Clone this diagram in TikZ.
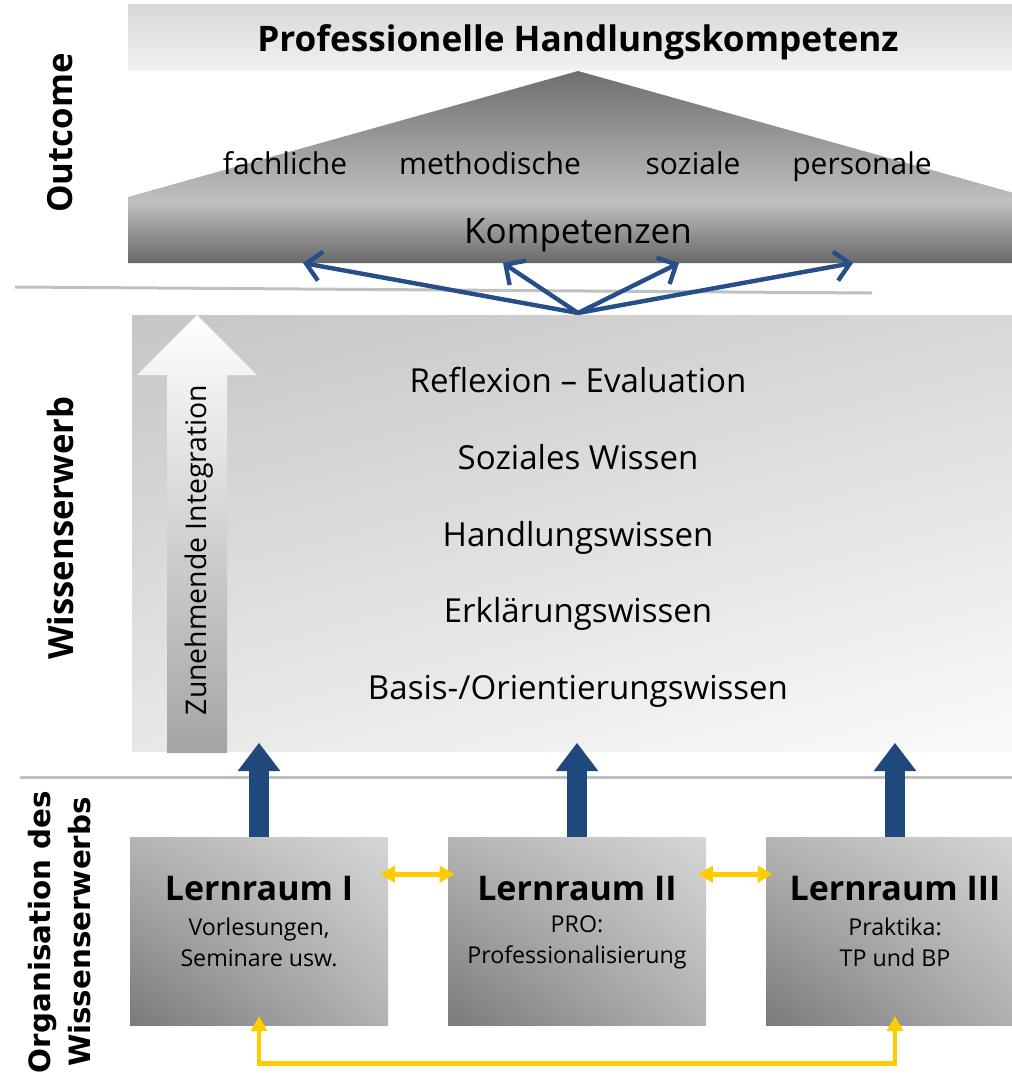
\documentclass[tikz,border=0pt]{standalone}
\usepackage{fontspec}
\setmainfont{Open Sans}
\newfontfamily\widefont{DejaVu Sans}
\usetikzlibrary{arrows.meta,shadings}
\definecolor{navy}{RGB}{31,73,125}
\definecolor{navyl}{RGB}{38,78,136}
\definecolor{gold}{RGB}{255,204,0}
\definecolor{rulegray}{RGB}{192,192,192}
\definecolor{roofA}{RGB}{104,104,104}
\definecolor{roofB}{RGB}{192,192,192}
\definecolor{roofC}{RGB}{110,110,110}
\definecolor{bxUL}{RGB}{180,180,180}
\definecolor{bxUR}{RGB}{214,214,214}
\definecolor{bxLL}{RGB}{122,122,122}
\definecolor{bxLR}{RGB}{178,178,178}
\definecolor{pnUL}{RGB}{198,198,198}
\definecolor{pnUR}{RGB}{216,216,216}
\definecolor{pnLL}{RGB}{232,232,232}
\definecolor{pnLR}{RGB}{251,251,251}
\definecolor{bnTop}{RGB}{216,216,216}
\definecolor{bnBot}{RGB}{242,242,242}
\definecolor{arrBot}{RGB}{164,164,164}
\pgfdeclareverticalshading{roofshade}{100bp}{color(0bp)=(roofA); color(25bp)=(roofA); color(41bp)=(roofB); color(75bp)=(roofC); color(100bp)=(roofC)}
\tikzset{
  titlefont/.style={anchor=base, font=\bfseries\fontsize{26.4pt}{30pt}\selectfont},
  roofword/.style={anchor=base, font=\fontsize{22.5pt}{26pt}\selectfont},
  kompfont/.style={anchor=base, font=\fontsize{26.3pt}{30pt}\selectfont},
  layer/.style={anchor=base, font=\fontsize{24.8pt}{29pt}\selectfont},
  sidelabel/.style={rotate=90, font=\bfseries\fontsize{26pt}{30pt}\selectfont},
  lbox/.style={minimum width=193.5pt, minimum height=141pt, inner sep=0pt,
    shading=bilinear interpolation,
    upper left=bxUL, upper right=bxUR, lower left=bxLL, lower right=bxLR},
  boxtitle/.style={font=\bfseries\fontsize{25.5pt}{29pt}\selectfont},
  boxsub/.style={font=\fontsize{17.4pt}{23pt}\selectfont, align=center},
  thinarrow/.style={draw=navyl, line width=3.3pt, -{Straight Barb[length=11pt,width=22pt]}},
  bigarrow/.style={draw=navy, line width=15pt, -{Triangle[length=21pt,width=32pt,line width=0pt]}},
  ylw/.style={draw=gold, line width=3.5pt, {Triangle[length=11pt,width=13pt,line width=0pt]}-{Triangle[length=11pt,width=13pt,line width=0pt]}},
  ruleline/.style={draw=rulegray, line width=2.25pt}
}
\begin{document}
\begin{tikzpicture}[x=0.75pt,y=-0.75pt]
\useasboundingbox (0,0) rectangle (1012,1081);
\clip (0,0) rectangle (1012,1081);

% top banner
\shade[top color=bnTop, bottom color=bnBot] (128,5) rectangle (1030,71);
\node[titlefont] (title) at (578,52) {Professionelle Handlungskompetenz};

% roof
\shade[shading=roofshade] (128,263) -- (128,197) -- (578,71) -- (1028,197) -- (1028,263) -- cycle;
\node[roofword] (fach) at (285,174) {fachliche};
\node[roofword] (meth) at (490,174) {methodische};
\node[roofword] (soz) at (693,174) {soziale};
\node[roofword] (pers) at (862,174) {personale};
\node[kompfont] (komp) at (578,243) {Kompetenzen};

% separator lines
\draw[ruleline] (15,287) -- (872,293);
\draw[ruleline] (20,777) -- (1030,777);

% middle panel
\shade[shading=bilinear interpolation, upper left=pnUL, upper right=pnUR, lower left=pnLL, lower right=pnLR] (132,315) rectangle (1030,751);

% integration arrow
\shade[top color=white, bottom color=arrBot]
  (167,753) -- (167,375) -- (137,375) -- (197,315) -- (257,375) -- (227,375) -- (227,753) -- cycle;
\node[rotate=90, font=\fontsize{21.3pt}{25pt}\selectfont] (integ) at (199,550) {Zunehmende Integration};

% layer texts
\node[layer] (refl) at (578,392) {Reflexion – Evaluation};
\node[layer] (sozw) at (578,469) {Soziales Wissen};
\node[layer] (handl) at (578,546) {Handlungswissen};
\node[layer] (erkl) at (578,622) {Erklärungswissen};
\node[layer] (basis) at (578,699) {Basis-/Orientierungswissen};

% thin arrows to competences
\coordinate (hub) at (578,313);
\coordinate (k1) at (303,263);
\coordinate (k2) at (503,263);
\coordinate (k3) at (679,263);
\coordinate (k4) at (853,263);
\draw[thinarrow] (hub) -- (k1);
\draw[thinarrow] (hub) -- (k2);
\draw[thinarrow] (hub) -- (k3);
\draw[thinarrow] (hub) -- (k4);

% side labels
\node[sidelabel] (outc) at (60,133) {Outcome};
\node[sidelabel] (wiss) at (60,528) {Wissenserwerb};
\node[rotate=90, align=center, font=\widefont\bfseries\fontsize{22pt}{30pt}\selectfont] (orga) at (60,932) {Organisation des\\Wissenserwerbs};

% learning spaces
\node[lbox] (b1) at (259,931.5) {};
\node[lbox] (b2) at (577,931.5) {};
\node[lbox] (b3) at (895,931.5) {};
\node[boxtitle] (t1) at ([yshift=32.6pt]b1.center) {Lernraum I};
\node[boxtitle] (t2) at ([yshift=32.6pt]b2.center) {Lernraum II};
\node[boxtitle] (t3) at ([yshift=32.6pt]b3.center) {Lernraum III};
\node[boxsub] (s1) at ([yshift=-8.25pt]b1.center) {Vorlesungen,\\Seminare usw.};
\node[boxsub] (s2) at ([yshift=-8.25pt]b2.center) {PRO:\\Professionalisierung};
\node[boxsub] (s3) at ([yshift=-8.25pt]b3.center) {Praktika:\\TP und BP};

% big blue arrows
\coordinate (tiprow) at (0,743);
\draw[bigarrow] (b1.north) -- (b1.north |- tiprow);
\draw[bigarrow] (b2.north) -- (b2.north |- tiprow);
\draw[bigarrow] (b3.north) -- (b3.north |- tiprow);

% yellow arrows
\draw[ylw, shorten <=-6pt, shorten >=-5pt] ([yshift=43pt]b1.east) -- ([yshift=43pt]b2.west);
\draw[ylw, shorten <=-6pt, shorten >=-5pt] ([yshift=43pt]b2.east) -- ([yshift=43pt]b3.west);
\draw[ylw] ([yshift=7pt]b1.south) -- ++(0,47) -| ([yshift=7pt]b3.south);
\end{tikzpicture}
\end{document}
